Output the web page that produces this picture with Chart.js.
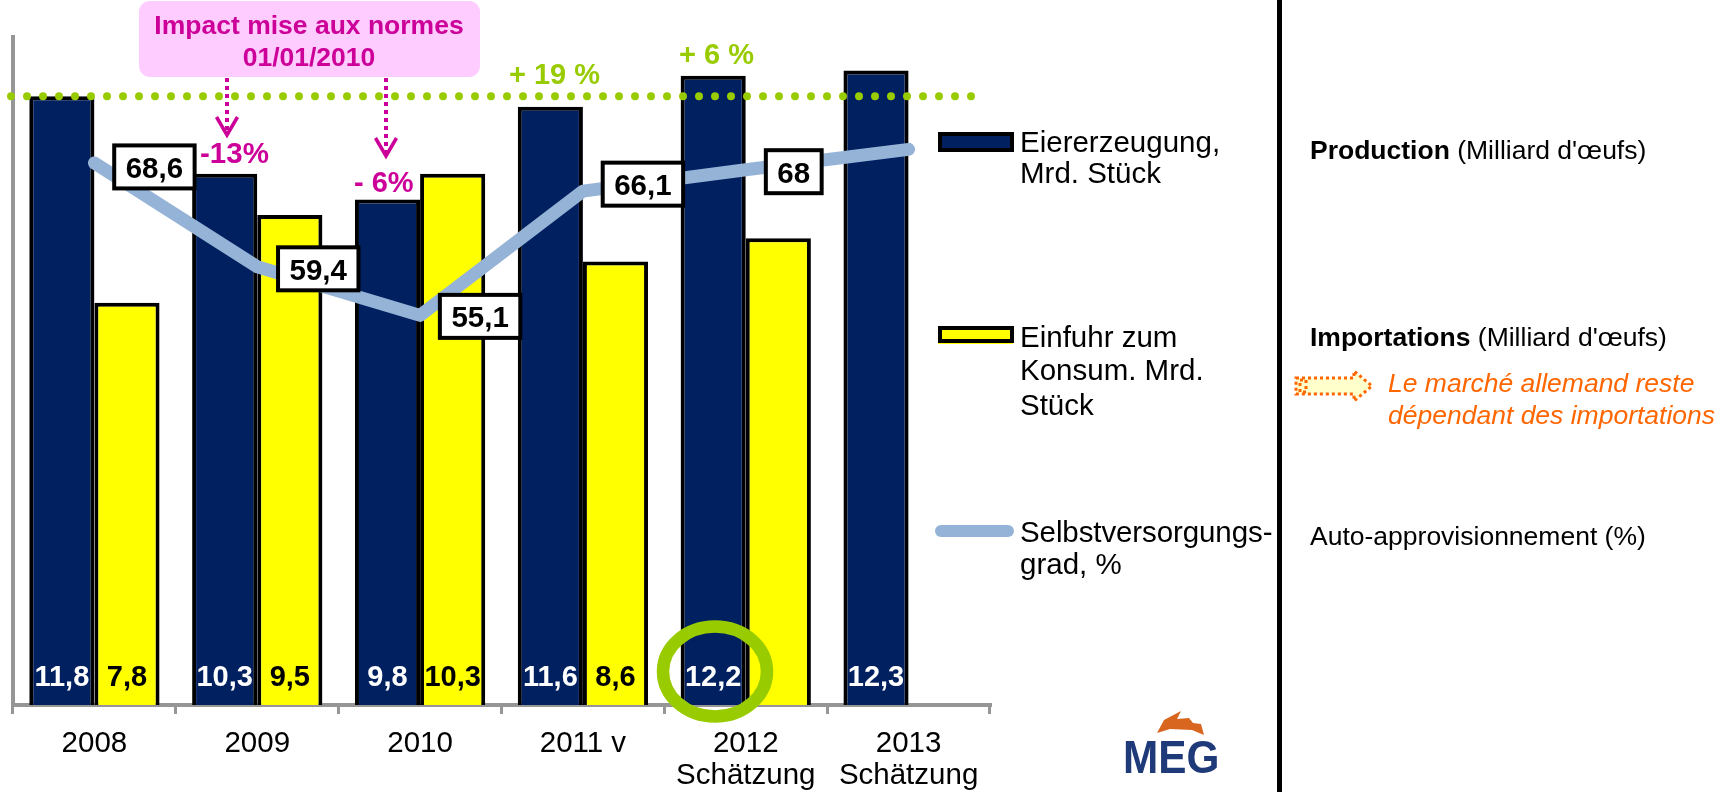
<!DOCTYPE html>
<html><head><meta charset="utf-8">
<style>html,body{margin:0;padding:0;background:#fff}#wrap{position:relative;width:1730px;height:792px}canvas{display:block}</style>
<script src="https://cdn.jsdelivr.net/npm/chart.js@4"></script>
</head><body><div id="wrap"><canvas id="c" width="1730" height="792"></canvas></div>
<script>
const categories = [['2008'],['2009'],['2010'],['2011 v'],['2012','Schätzung'],['2013','Schätzung']];
const production = [11.8,10.3,9.8,11.6,12.2,12.3];
const imports = [7.8,9.5,10.3,8.6,9.05,null];
const selfSupply = [68.6,59.4,55.1,66.1,68,69.8];
const productionLabels = ['11,8','10,3','9,8','11,6','12,2','12,3'];
const importLabels = ['7,8','9,5','10,3','8,6',null,null];
const selfLabels = ['68,6','59,4','55,1','66,1','68',null];
const seriesNames = ['Eiererzeugung, Mrd. Stück','Einfuhr zum Konsum. Mrd. Stück','Selbstversorgungsgrad, %'];

const FONT='"Liberation Sans", Arial, sans-serif';
const NAVY='#002060',YELLOW='#FFFF00',LINE='#95B3D7',GREEN='#99CC00',MAG='#CC0099',ORANGE='#FF6600',GREY='#969696';
const selfOffsets=[[60,4],[61,2],[60,1],[60,-7],[48,2]];

function txt(ctx,s,x,y,font,color,align,spacing){
  ctx.font=font+' '+FONT;ctx.fillStyle=color;ctx.textAlign=align||'left';ctx.textBaseline='alphabetic';
  ctx.letterSpacing=spacing||'0px';ctx.fillText(s,x,y);ctx.letterSpacing='0px';
}
function dottedArrow(ctx,x,y0,y1){
  ctx.save();ctx.strokeStyle=MAG;ctx.lineWidth=4;ctx.setLineDash([4,4]);
  ctx.beginPath();ctx.moveTo(x,y0);ctx.lineTo(x,y1-4);ctx.stroke();
  ctx.setLineDash([]);ctx.lineWidth=3.5;ctx.lineJoin='miter';
  ctx.beginPath();ctx.moveTo(x-10.5,y1-20);ctx.lineTo(x,y1-2);ctx.lineTo(x+10.5,y1-20);ctx.stroke();ctx.restore();
}
const overlay={id:'overlay',
  afterDatasetsDraw(chart){
    const ctx=chart.ctx,sx=chart.scales.x,sy=chart.scales.y,sr=chart.scales.y1;
    const prodMeta=chart.getDatasetMeta(0),impMeta=chart.getDatasetMeta(1);
    ctx.save();
    // dotted reference line at the 2008 production level
    const ly=sy.getPixelForValue(production[0]);
    ctx.strokeStyle=GREEN;ctx.lineWidth=8;ctx.lineCap='round';ctx.setLineDash([0,16]);
    ctx.beginPath();ctx.moveTo(11,ly);ctx.lineTo(975,ly);ctx.stroke();ctx.setLineDash([]);ctx.lineCap='butt';
    // bar values
    productionLabels.forEach((s,i)=>txt(ctx,s,prodMeta.data[i].x,686,'bold 29px','#fff','center'));
    importLabels.forEach((s,i)=>{if(s)txt(ctx,s,impMeta.data[i].x,686,'bold 29px','#000','center');});
    // line value boxes
    selfLabels.forEach((s,i)=>{ if(!s)return;
      const x=sx.getPixelForValue(i)+selfOffsets[i][0],y=sr.getPixelForValue(selfSupply[i])+selfOffsets[i][1];
      ctx.font='bold 29.5px '+FONT;const w=ctx.measureText(s).width+23,h=43;
      ctx.fillStyle='#fff';ctx.strokeStyle='#000';ctx.lineWidth=4;
      ctx.fillRect(x-w/2,y-h/2,w,h);ctx.strokeRect(x-w/2,y-h/2,w,h);
      txt(ctx,s,x,y+11,'bold 29.5px','#000','center');
    });
    // callout
    ctx.fillStyle='#FFCCFF';ctx.beginPath();ctx.roundRect(139,1,341,76,11);ctx.fill();
    txt(ctx,'Impact mise aux normes',309,34,'bold 26.5px',MAG,'center');
    txt(ctx,'01/01/2010',309,66,'bold 26.5px',MAG,'center');
    dottedArrow(ctx,227,78,137);dottedArrow(ctx,386,78,158);
    txt(ctx,'-13%',200,163,'bold 29.5px',MAG);
    txt(ctx,'- 6%',354,192,'bold 29px',MAG);
    txt(ctx,'+ 19 %',509,84,'bold 29px',GREEN);
    txt(ctx,'+ 6 %',679,64,'bold 29px',GREEN);
    // highlight ellipse
    ctx.strokeStyle=GREEN;ctx.lineWidth=12.5;ctx.beginPath();ctx.ellipse(715,671.5,52,45,0,0,Math.PI*2);ctx.stroke();
    // legend
    ctx.fillStyle=NAVY;ctx.strokeStyle='#000';ctx.lineWidth=4;ctx.fillRect(940,134,72,16);ctx.strokeRect(940,134,72,16);
    ctx.fillStyle=YELLOW;ctx.fillRect(938,335,75,9);ctx.fillRect(940,328,72,13);ctx.strokeRect(940,328,72,13);
    ctx.strokeStyle=LINE;ctx.lineWidth=12;ctx.lineCap='round';ctx.beginPath();ctx.moveTo(941,531);ctx.lineTo(1008,531);ctx.stroke();ctx.lineCap='butt';
    const lg='29.5px';
    txt(ctx,'Eiererzeugung,',1020,152,lg,'#000');txt(ctx,'Mrd. Stück',1020,183,lg,'#000');
    txt(ctx,'Einfuhr zum',1020,347,lg,'#000');txt(ctx,'Konsum. Mrd.',1020,380,lg,'#000');txt(ctx,'Stück',1020,415,lg,'#000');
    txt(ctx,'Selbstversorgungs-',1020,542,lg,'#000','left','-0.1px');txt(ctx,'grad, %',1020,574,lg,'#000');
    // divider
    ctx.fillStyle='#000';ctx.fillRect(1277,0,5,792);
    // right column
    const rf='26.5px';
    txt(ctx,'Production',1310,159,'bold '+rf,'#000');
    let w=ctx.measureText('Production ').width;
    txt(ctx,"(Milliard d'œufs)",1310+w,159,rf,'#000');
    txt(ctx,'Importations',1310,346,'bold '+rf,'#000');
    w=ctx.measureText('Importations ').width;
    txt(ctx,"(Milliard d'œufs)",1310+w,346,rf,'#000');
    txt(ctx,'Le marché allemand reste',1388,392,'italic '+rf,ORANGE);
    txt(ctx,'dépendant des importations',1388,424,'italic '+rf,ORANGE);
    txt(ctx,'Auto-approvisionnement (%)',1310,545,rf,'#000');
    // outlined block arrow
    ctx.fillStyle='#FFFFCC';ctx.strokeStyle=ORANGE;ctx.lineWidth=3;ctx.setLineDash([3,3]);
    ctx.beginPath();ctx.moveTo(1296,378);ctx.lineTo(1354,378);ctx.lineTo(1354,371);ctx.lineTo(1372,386);ctx.lineTo(1354,401);ctx.lineTo(1354,394);ctx.lineTo(1296,394);ctx.closePath();ctx.fill();ctx.stroke();
    ctx.strokeRect(1300,380,6,12);ctx.setLineDash([]);
    // logo
    ctx.save();ctx.filter='blur(0.7px)';
    ctx.fillStyle='#D9661F';ctx.beginPath();
    ctx.moveTo(1157,733);ctx.lineTo(1164,720);ctx.lineTo(1181,711);ctx.lineTo(1177,719);ctx.lineTo(1189,718);ctx.lineTo(1193,723);ctx.lineTo(1201,724);ctx.lineTo(1204,735);ctx.lineTo(1192,730);ctx.lineTo(1170,729);ctx.closePath();ctx.fill();
    ctx.translate(1123,773);ctx.scale(0.9,1);
    txt(ctx,'MEG',0,0,'bold 47px','#1F3A78');
    ctx.restore();
    ctx.restore();
  }};
new Chart(document.getElementById('c'),{
  data:{labels:categories,datasets:[
    {type:'bar',label:seriesNames[0],data:production,backgroundColor:NAVY,borderColor:'#000',borderWidth:4,yAxisID:'y',order:2},
    {type:'bar',label:seriesNames[1],data:imports,backgroundColor:YELLOW,borderColor:'#000',borderWidth:4,yAxisID:'y',order:2},
    {type:'line',label:seriesNames[2],data:selfSupply,borderColor:LINE,borderWidth:13,pointRadius:0,tension:0,borderCapStyle:'round',borderJoinStyle:'round',yAxisID:'y1',order:1}
  ]},
  options:{responsive:false,animation:false,
    layout:{padding:{top:37,right:740,left:0,bottom:0}},
    datasets:{bar:{categoryPercentage:0.8,barPercentage:1}},
    plugins:{legend:{display:false},title:{display:false},tooltip:{enabled:false}},
    scales:{
      x:{offset:true,afterFit(s){s.height=87;},
        border:{color:GREY,width:4},
        grid:{drawOnChartArea:false,drawTicks:true,tickLength:9,color:GREY,lineWidth:3,offset:true},
        ticks:{color:'#000',font:{family:FONT,size:29.5,lineHeight:1.08},padding:14,maxRotation:0,autoSkip:false}},
      y:{min:0,max:12.95,afterFit(s){s.width=13;},
        border:{color:GREY,width:4},grid:{display:false,drawTicks:false},ticks:{display:false}},
      y1:{display:false,position:'right',min:20.6,max:79.75}
    }},
  plugins:[overlay]
});
</script></body></html>
